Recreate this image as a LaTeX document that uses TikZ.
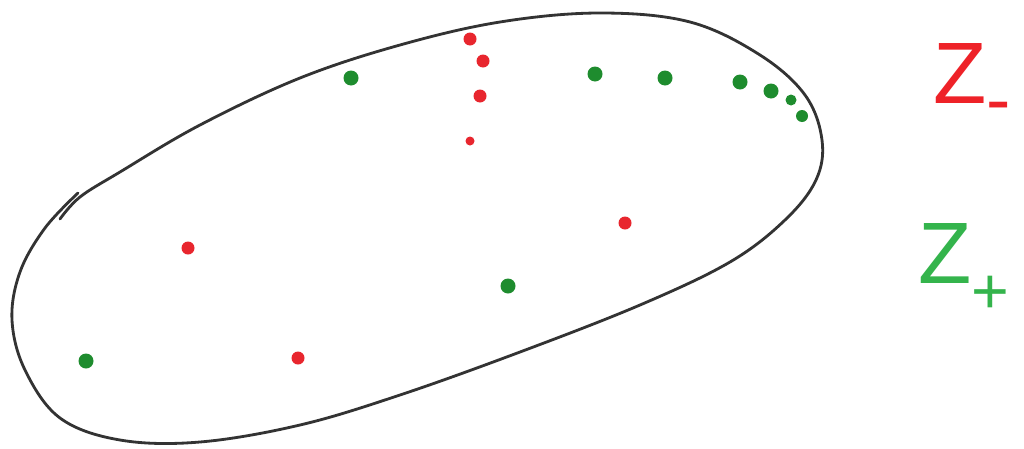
\documentclass[tikz,border=0pt]{standalone}
\usepackage{fontspec}
\setmainfont{Liberation Sans}
\definecolor{dotred}{HTML}{E8262E}
\definecolor{dotgreen}{HTML}{1E8C2E}
\definecolor{labred}{HTML}{EE2228}
\definecolor{labgreen}{HTML}{34B44C}
\definecolor{outline}{HTML}{333333}
\begin{document}
\begin{tikzpicture}[x=0.025cm,y=-0.025cm,
  rdot/.style={circle,fill=dotred,inner sep=0pt,minimum size=13*0.025cm},
  gdot/.style={circle,fill=dotgreen,inner sep=0pt,minimum size=15*0.025cm},
  sdot/.style={circle,fill=dotred,inner sep=0pt,minimum size=9*0.025cm},
  lab/.style={font=\fontsize{62}{62}\selectfont,inner sep=0pt,anchor=base west}]
\useasboundingbox[fill=white] (0,0) rectangle (1024,448);
\draw[outline,line width=2pt,line cap=round] plot[smooth,tension=0.6] coordinates {
 (60,219) (80,197) (120,172) (200,125) (300,78) (400,45) (500,22) (600,13)
 (690,22) (760,55) (805,95) (822,140) (816,180) (785,220) (730,262) (640,305)
 (520,352) (400,395) (300,425) (200,442) (120,440) (60,418) (25,370) (12,320)
 (20,272) (45,228) (78,193)};
% red dots
\node[rdot] (r1) at (470,39) {};
\node[rdot] (r2) at (483,61) {};
\node[rdot] (r3) at (480,96) {};
\node[sdot] (r4) at (470,141) {};
\node[rdot] (r5) at (188,248) {};
\node[rdot] (r6) at (625,223) {};
\node[rdot] (r7) at (298,358) {};
% green dots
\node[gdot] (g1) at (351,78) {};
\node[gdot] (g2) at (595,74) {};
\node[gdot] (g3) at (665,78) {};
\node[gdot] (g4) at (740,82) {};
\node[gdot] (g5) at (771,91) {};
\node[gdot,minimum size=11*0.025cm] (g6) at (791,100) {};
\node[gdot,minimum size=12*0.025cm] (g7) at (802,116) {};
\node[gdot] (g8) at (508,286) {};
\node[gdot] (g9) at (86,361) {};
% labels
\node[lab,text=labred] (zm) at (933,103) {Z\raisebox{-15pt}{\fontsize{52}{52}\selectfont -}};
\node[lab,text=labgreen] (zp) at (918,283) {Z\raisebox{-22pt}{\fontsize{46}{46}\selectfont +}};
\end{tikzpicture}
\end{document}
